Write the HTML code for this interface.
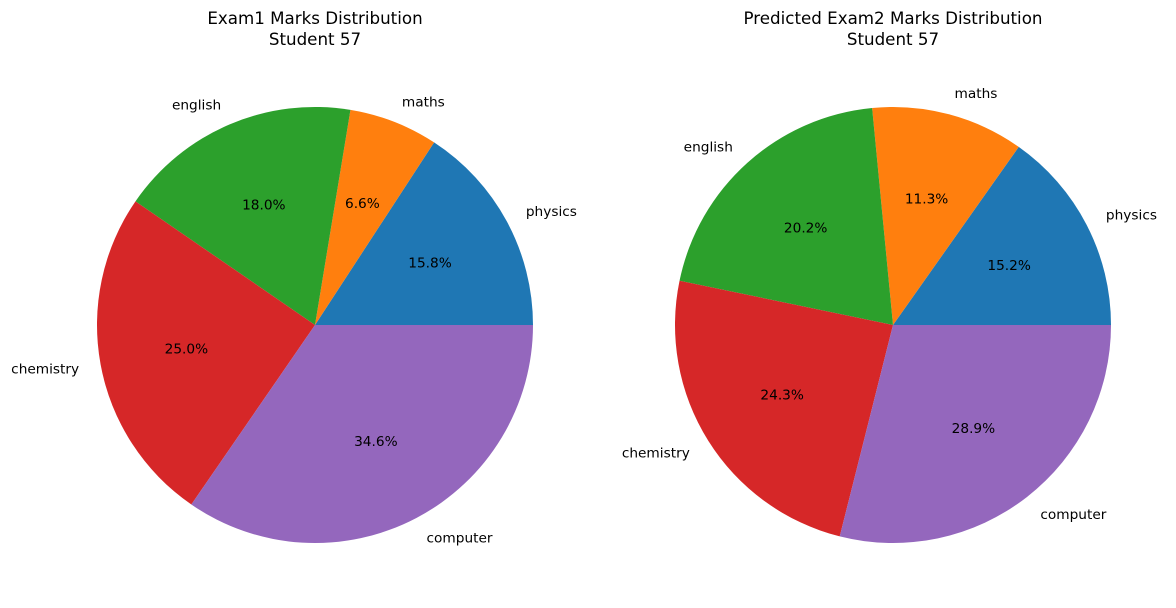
<!DOCTYPE html>
<html><head><meta charset="utf-8"><style>
body{margin:0;background:#fff;}
svg{display:block;font-family:"DejaVu Sans","Liberation Sans",sans-serif;}
</style></head><body>
<svg id="chart" width="1176" height="608" xmlns="http://www.w3.org/2000/svg"></svg>
<script>
const categories = ["physics","maths","english","chemistry","computer"];
const exam1Values = [15.8, 6.6, 18.0, 25.0, 34.6];
const exam2Values = [15.2, 11.3, 20.2, 24.3, 28.9];
const titles1 = ["Exam1 Marks Distribution","Student 57"];
const titles2 = ["Predicted Exam2 Marks Distribution","Student 57"];
const colors = ["#1f77b4","#ff7f0e","#2ca02c","#d62728","#9467bd"];
const NS="http://www.w3.org/2000/svg";
const svg=document.getElementById('chart');
function mk(tag,attrs,parent){const e=document.createElementNS(NS,tag);for(const k in attrs)e.setAttribute(k,attrs[k]);(parent||svg).appendChild(e);return e;}
function drawPie(cx,cy,r,values,titles,prefix){
  const g=mk('g',{});
  
  
  titles.forEach((t,i)=>{
    const tx=mk('text',{x:cx,y:24+i*21,'text-anchor':'middle','font-size':'16.7',fill:'#000'},g);
    tx.textContent=t;
    
    
  });
  const total=values.reduce((a,b)=>a+b,0);
  let a0=0;
  values.forEach((v,i)=>{
    const a1=a0+v/total*2*Math.PI;
    const x0=cx+r*Math.cos(a0),y0=cy-r*Math.sin(a0);
    const x1=cx+r*Math.cos(a1),y1=cy-r*Math.sin(a1);
    const large=(a1-a0)>Math.PI?1:0;
    const p=mk('path',{d:`M${cx},${cy} L${x0},${y0} A${r},${r} 0 ${large} 0 ${x1},${y1} Z`,fill:colors[i]},g);
    
    
    const am=(a0+a1)/2;
    const lx=cx+1.1*r*Math.cos(am),ly=cy-1.1*r*Math.sin(am);
    const lt=mk('text',{x:lx,y:ly+5,'text-anchor':Math.cos(am)>=0?'start':'end','font-size':'13.7',fill:'#000'},g);
    lt.textContent=categories[i];
    
    
    const px=cx+0.6*r*Math.cos(am),py=cy-0.6*r*Math.sin(am);
    const pt=mk('text',{x:px,y:py+5,'text-anchor':'middle','font-size':'13.7',fill:'#000'},g);
    pt.textContent=(v/total*100).toFixed(1)+'%';
    
    
    a0=a1;
  });
}
drawPie(315,325,218,exam1Values,titles1,'exam1');
drawPie(893,325,218,exam2Values,titles2,'exam2');
</script>
</body></html>
